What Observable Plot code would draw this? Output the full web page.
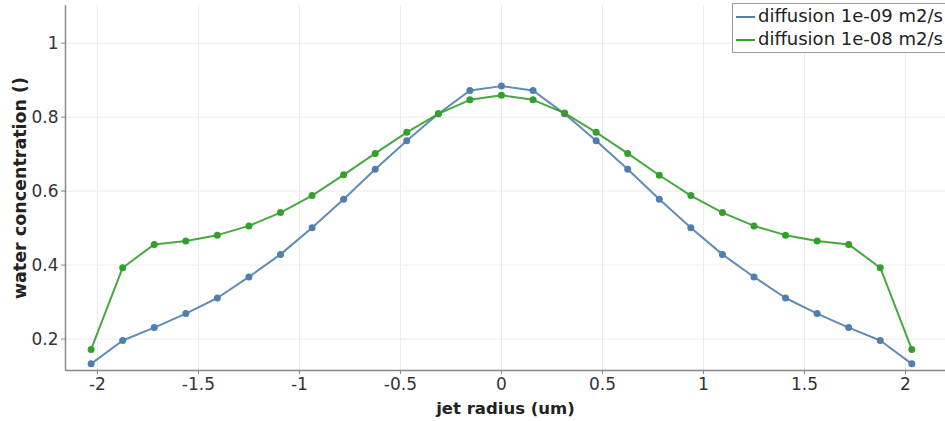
<!DOCTYPE html>
<html>
<head>
<meta charset="utf-8">
<script src="https://cdn.jsdelivr.net/npm/d3@7"></script>
<script src="https://cdn.jsdelivr.net/npm/@observablehq/plot@0.6"></script>
<style>
  html, body { margin: 0; padding: 0; background: #fff; }
  #wrap { position: relative; width: 945px; height: 421px; overflow: hidden; }
  #legend { position: absolute; left: 732px; top: 3px; width: 260px; height: 48px;
    border: 1.5px solid #9a9a9a; background: #fff; font-family: "DejaVu Sans", sans-serif;
    font-size: 18px; color: #222; }
  .item { position: absolute; left: 3px; height: 22px; line-height: 22px; white-space: nowrap; }
  .swatch { display: inline-block; width: 19px; height: 0; border-top: 2px solid; vertical-align: middle; margin-right: 3px; }
</style>
</head>
<body>
<div id="wrap"><div id="chart"></div><div id="legend"></div></div>
<script>
const radius = [-2.03125, -1.875, -1.71875, -1.5625, -1.40625, -1.25, -1.09375, -0.9375, -0.78125, -0.625, -0.46875, -0.3125, -0.15625, 0,
  0.15625, 0.3125, 0.46875, 0.625, 0.78125, 0.9375, 1.09375, 1.25, 1.40625, 1.5625, 1.71875, 1.875, 2.03125];
const diff09 = [0.133, 0.196, 0.231, 0.269, 0.311, 0.368, 0.429, 0.501, 0.578, 0.659, 0.736, 0.809, 0.872, 0.884,
  0.872, 0.809, 0.736, 0.659, 0.578, 0.501, 0.429, 0.368, 0.311, 0.269, 0.231, 0.196, 0.133];
const diff08 = [0.172, 0.393, 0.456, 0.465, 0.481, 0.506, 0.542, 0.588, 0.644, 0.702, 0.759, 0.809, 0.847, 0.859,
  0.847, 0.811, 0.759, 0.702, 0.643, 0.588, 0.542, 0.506, 0.481, 0.465, 0.456, 0.393, 0.172];
const seriesNames = ["diffusion 1e-09 m2/s", "diffusion 1e-08 m2/s"];
const seriesColors = ["#4f7fae", "#32a02a"];
const xTicks = [-2, -1.5, -1, -0.5, 0, 0.5, 1, 1.5, 2];
const yTicks = [0.2, 0.4, 0.6, 0.8, 1];

const data = [];
[diff09, diff08].forEach((vals, s) => vals.forEach((v, i) => data.push({x: radius[i], y: v, series: seriesNames[s]})));

const xDomain = [-2.158, 2.198];
const yDomain = [0.115, 1.102];
const font = "DejaVu Sans, sans-serif";

const chart = Plot.plot({
  width: 945, height: 421,
  marginLeft: 65, marginRight: 0, marginTop: 5, marginBottom: 51,
  style: {fontFamily: font, background: "white", color: "#333"},
  x: {domain: xDomain},
  y: {domain: yDomain},
  color: {domain: seriesNames, range: seriesColors},
  marks: [
    Plot.gridX(xTicks, {stroke: "#ececec", strokeOpacity: 1}),
    Plot.gridY(yTicks, {stroke: "#ececec", strokeOpacity: 1}),
    Plot.axisX(xTicks, {tickSize: 4, tickPadding: 3, fontSize: 17, stroke: "#888", fill: "#333",
      tickFormat: d => String(d), label: "jet radius (um)", labelAnchor: "center", labelArrow: "none", labelOffset: 43}),
    Plot.axisY(yTicks, {tickSize: 4, tickPadding: 3, fontSize: 17, stroke: "#888", fill: "#333",
      tickFormat: d => String(d), label: "water concentration ()", labelAnchor: "center", labelArrow: "none", labelOffset: 52}),
    Plot.ruleY([yDomain[0]], {stroke: "#888", strokeWidth: 1.5}),
    Plot.ruleX([xDomain[0]], {stroke: "#888", strokeWidth: 1.5}),
    Plot.line(data, {x: "x", y: "y", z: "series", stroke: "series", strokeWidth: 2, strokeOpacity: 0.9}),
    Plot.dot(data, {x: "x", y: "y", fill: "series", r: 3.5})
  ]
});
chart.querySelectorAll("g[aria-label='x-axis label'] text").forEach(t => {
  t.setAttribute("font-weight", "bold"); t.setAttribute("font-size", "16.5"); t.setAttribute("fill", "#222");
});
chart.querySelectorAll("g[aria-label='y-axis label'] text").forEach(t => {
  t.setAttribute("font-weight", "bold"); t.setAttribute("font-size", "17.5"); t.setAttribute("fill", "#222");
});
document.getElementById("chart").appendChild(chart);

const legend = document.getElementById("legend");
seriesNames.forEach((name, i) => {
  const d = document.createElement("div");
  d.className = "item";
  d.style.top = (1 + i * 23) + "px";
  d.innerHTML = `<span class="swatch" style="border-color:${seriesColors[i]}"></span>${name}`;
  legend.appendChild(d);
});
</script>
</body>
</html>
